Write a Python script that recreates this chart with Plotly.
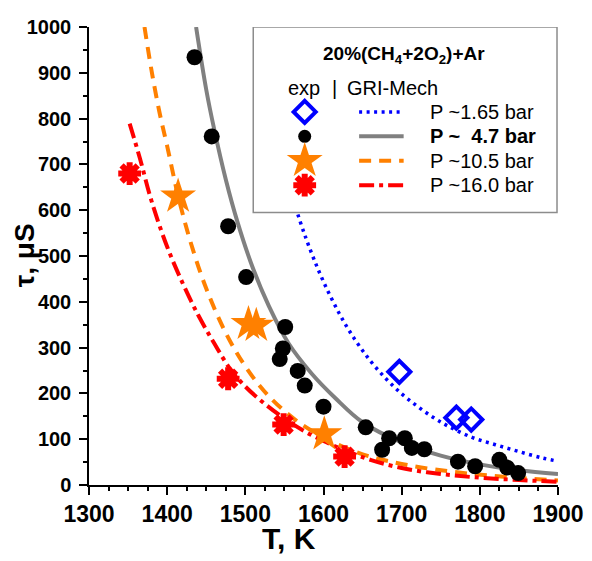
import plotly.graph_objects as go

# ---------------- data ----------------
# experimental ignition delays
T_exp_165 = [1697, 1770, 1789]
tau_exp_165 = [247, 147, 143]

T_exp_47 = [1435, 1457, 1478, 1501, 1544, 1548, 1551, 1567, 1576, 1600, 1654,
            1675, 1684, 1704, 1713, 1729, 1772, 1794, 1825, 1835, 1849]
tau_exp_47 = [934, 761, 565, 454, 275, 298, 345, 249, 217, 171, 126,
              77, 102, 102, 81, 78, 51, 41, 55, 38, 26]

T_exp_105 = [1414, 1504, 1514, 1601]
tau_exp_105 = [630, 352, 348, 111]

T_exp_160 = [1352, 1478, 1549, 1627]
tau_exp_160 = [680, 232, 132, 62]

# GRI-Mech model curves
T_gri_165 = [1520, 1535, 1550, 1570, 1585, 1600, 1620, 1640, 1660, 1680, 1700, 1720, 1740,
             1760, 1790, 1820, 1850, 1880, 1900]
tau_gri_165 = [925, 790, 689, 576, 505, 444, 375, 318, 271, 232, 199, 172, 148,
               128, 104, 88, 73, 59, 52]

T_gri_47 = [1437, 1450, 1460, 1475, 1490, 1510, 1530, 1555, 1585, 1615, 1650, 1700, 1750, 1800, 1850, 1900]
tau_gri_47 = [1000, 863, 778, 667, 574, 472, 391, 310, 243, 190, 137, 93, 64, 45, 32, 24]

T_gri_105 = [1371, 1380, 1390, 1400, 1414, 1430, 1450, 1475, 1500, 1530, 1575, 1640, 1700, 1760, 1810, 1860, 1900]
tau_gri_105 = [1000, 905, 815, 740, 631, 530, 429, 332, 259, 194, 129, 73, 46, 30, 21, 14, 10]

T_gri_160 = [1352, 1365, 1380, 1400, 1420, 1440, 1460, 1480, 1500, 1525, 1550, 1575, 1600, 1630, 1660, 1700, 1750, 1800, 1850, 1900]
tau_gri_160 = [789, 714, 620, 520, 440, 370, 310, 255, 215, 177, 145, 118, 96, 74, 55, 37, 24, 16, 11, 7]

# texts
legend_title = "20%(CH<sub>4</sub>+2O<sub>2</sub>)+Ar"
legend_labels = ["P ~1.65 bar", "<b>P ~\u00a0 4.7 bar</b>", "P ~10.5 bar", "P ~16.0 bar"]
x_title = "T, K"
y_title = "\u03c4, \u03bcS"

# ---------------- figure ----------------
OFF = 8                      # default page margin of the html body
W, H = 592 - OFF, 561 - OFF
L, R, T, B = 89, 563, 16, 485  # plot area in window pixels

FONT = "Liberation Sans, Arial, sans-serif"
BLUE, GRAY, ORANGE, RED = "#0000ff", "#808080", "#ff8000", "#ff0000"

fig = go.Figure()

# model curves
fig.add_trace(go.Scatter(x=T_gri_165, y=tau_gri_165, mode="lines", line_shape="spline",
                         line=dict(color=BLUE, width=3.5, dash="3px,4.5px")))
fig.add_trace(go.Scatter(x=T_gri_47, y=tau_gri_47, mode="lines", line_shape="spline",
                         line=dict(color=GRAY, width=4)))
fig.add_trace(go.Scatter(x=T_gri_105, y=tau_gri_105, mode="lines", line_shape="spline",
                         line=dict(color=ORANGE, width=4, dash="12px,8px")))
fig.add_trace(go.Scatter(x=T_gri_160, y=tau_gri_160, mode="lines", line_shape="spline",
                         line=dict(color=RED, width=4, dash="15px,5px,4px,5px")))

# experimental points
fig.add_trace(go.Scatter(x=T_exp_165, y=tau_exp_165, mode="markers", cliponaxis=False,
                         marker=dict(symbol="diamond-open", size=17, color=BLUE,
                                     line=dict(color=BLUE, width=4))))
fig.add_trace(go.Scatter(x=T_exp_47, y=tau_exp_47, mode="markers", cliponaxis=False,
                         marker=dict(symbol="circle", size=16, color="black", line=dict(width=0))))
fig.add_trace(go.Scatter(x=T_exp_105, y=tau_exp_105, mode="markers", cliponaxis=False,
                         marker=dict(symbol="star", size=27, color=ORANGE, line=dict(width=0))))
fig.add_trace(go.Scatter(x=T_exp_160, y=tau_exp_160, mode="markers", cliponaxis=False,
                         marker=dict(symbol="asterisk-open", size=19, color=RED,
                                     line=dict(color=RED, width=6))))

# ---------------- hand-made legend on an overlay pixel axis ----------------
box_x0, box_x1, box_y0, box_y1 = 255, 562, 16, 206
fig.add_trace(go.Scatter(x=[box_x0, box_x1, box_x1, box_x0, box_x0],
                         y=[box_y0, box_y0, box_y1, box_y1, box_y0],
                         xaxis="x2", yaxis="y2", mode="lines", fill="toself",
                         fillcolor="white", line=dict(color="#8c8c8c", width=1.5),
                         hoverinfo="skip"))
rows_y = [103, 128, 153, 178]
mk_x = 307
ln_x0, ln_x1 = 362, 407
mk_styles = [
    dict(symbol="diamond-open", size=17, color=BLUE, line=dict(color=BLUE, width=4)),
    dict(symbol="circle", size=13, color="black", line=dict(width=0)),
    dict(symbol="star", size=27, color=ORANGE, line=dict(width=0)),
    dict(symbol="asterisk-open", size=19, color=RED, line=dict(color=RED, width=6)),
]
ln_styles = [
    dict(color=BLUE, width=3.5, dash="3px,4.5px"),
    dict(color=GRAY, width=4),
    dict(color=ORANGE, width=4, dash="12px,8px"),
    dict(color=RED, width=4, dash="15px,5px,4px,5px"),
]
for ry, ms, ls in zip(rows_y, mk_styles, ln_styles):
    fig.add_trace(go.Scatter(x=[ln_x0, ln_x1], y=[ry, ry], xaxis="x2", yaxis="y2",
                             mode="lines", line=ls, hoverinfo="skip"))
    fig.add_trace(go.Scatter(x=[mk_x], y=[ry], xaxis="x2", yaxis="y2",
                             mode="markers", marker=ms, hoverinfo="skip", cliponaxis=False))

def px(x):
    return (x - L) / (R - L)

def py(y):
    return (B - y) / (B - T)

ann = []
ann.append(dict(x=px(407), y=py(45), text="<b>" + legend_title + "</b>",
                font=dict(size=19, family=FONT, color="black")))
ann.append(dict(x=px(306), y=py(78), text="exp", font=dict(size=20, family=FONT, color="black")))
ann.append(dict(x=px(337), y=py(78), text="|", font=dict(size=20, family=FONT, color="black")))
ann.append(dict(x=px(396), y=py(78), text="GRI-Mech", font=dict(size=20, family=FONT, color="black")))
for ry, lab in zip(rows_y, legend_labels):
    ann.append(dict(x=px(432), y=py(ry), text=lab, xanchor="left",
                    font=dict(size=20, family=FONT, color="black")))
ann.append(dict(x=px(291), y=py(540), text="<b>" + x_title + "</b>",
                font=dict(size=30, family=FONT, color="black")))
ann.append(dict(x=px(24), y=py(250), text="<b>" + y_title + "</b>", textangle=-90,
                font=dict(size=28, family=FONT, color="black")))
for a in ann:
    a.update(xref="paper", yref="paper", showarrow=False)
    a.setdefault("xanchor", "center")
    a["yanchor"] = "middle"

axis_common = dict(showline=True, linecolor="black", linewidth=1.5, mirror=False,
                   showgrid=False, zeroline=False, ticks="outside", ticklen=8,
                   tickwidth=1.5, tickcolor="black", ticklabeloverflow="allow")

fig.update_layout(
    width=W, height=H, autosize=False,
    margin=dict(l=L - OFF, r=592 - R, t=T - OFF, b=561 - B, pad=0),
    paper_bgcolor="white", plot_bgcolor="white",
    showlegend=False,
    annotations=ann,
    xaxis=dict(range=[1300, 1900], dtick=100, tick0=1300,
               tickfont=dict(size=23, family=FONT, color="black", weight="bold"),
               minor=dict(dtick=25, ticklen=4, tickwidth=1.5, ticks="outside", tickcolor="black"),
               **axis_common),
    yaxis=dict(range=[0, 1000], dtick=100, tick0=0, ticklabelstandoff=4,
               tickfont=dict(size=20, family=FONT, color="black", weight="bold"),
               minor=dict(dtick=50, ticklen=4, tickwidth=1.5, ticks="outside", tickcolor="black"),
               **axis_common),
    xaxis2=dict(overlaying="x", anchor="y2", range=[L, R], visible=False, fixedrange=True),
    yaxis2=dict(overlaying="y", anchor="x2", range=[B, T], visible=False, fixedrange=True),
)

fig.write_html("out.html")
